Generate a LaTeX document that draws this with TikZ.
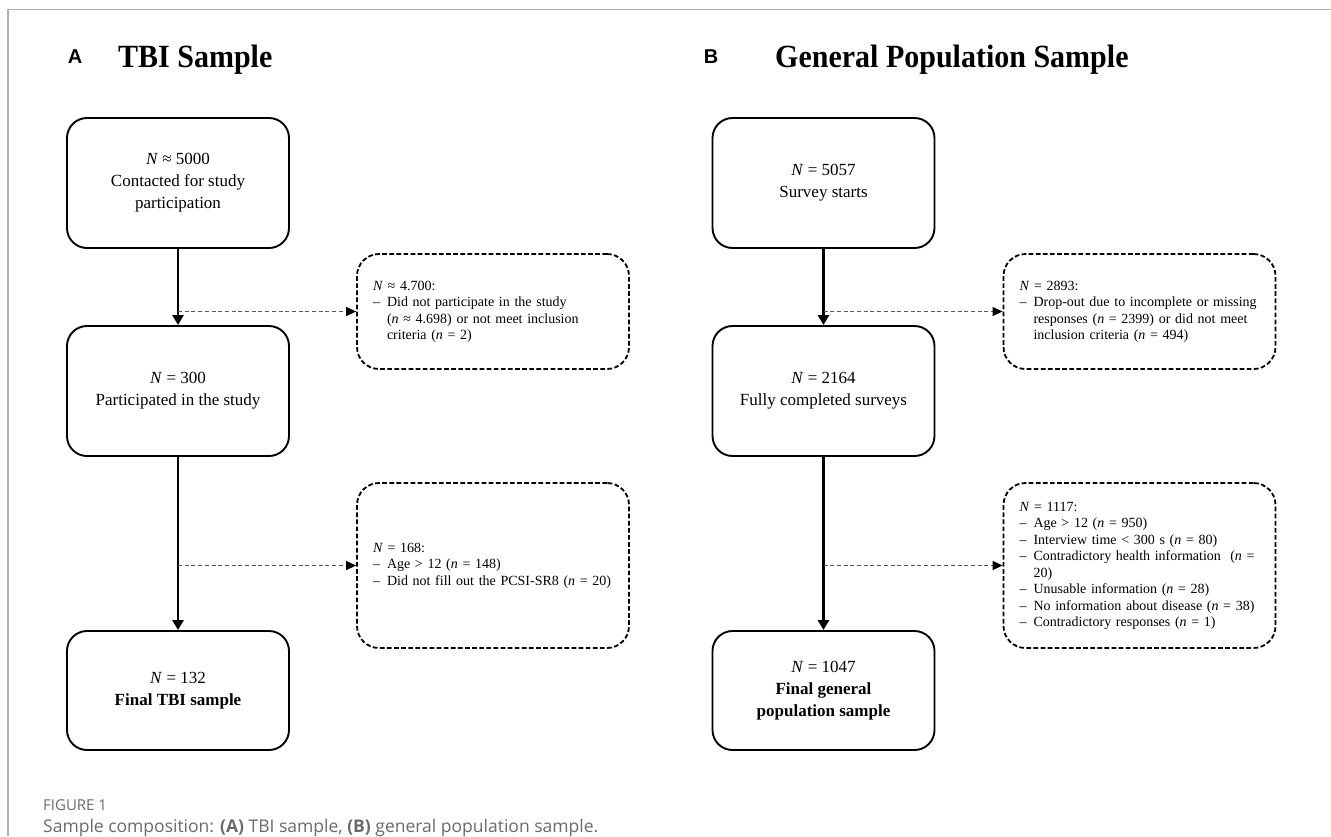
\documentclass[tikz,border=0pt]{standalone}
\usepackage{fontspec}
\setmainfont{Liberation Serif}
\newfontfamily\lblfont{Liberation Sans}
\newfontfamily\capfont{Open Sans}
\usetikzlibrary{arrows.meta}
\definecolor{framegray}{HTML}{B0B0B0}
\definecolor{capgray}{HTML}{6A6A6A}
\begin{document}
\begin{tikzpicture}[x=1pt,y=-1pt,
  mainbox/.style={draw, line width=1.9pt, rounded corners=20pt, minimum width=222pt,
    minimum height=130pt, align=center, inner sep=0pt, font=\fontsize{17}{22}\selectfont},
  dashbox/.style={draw, line width=1.8pt, dash pattern=on 4.7pt off 2.4pt, rounded corners=22pt,
    minimum width=272pt, text width=240pt, inner xsep=16pt, inner ysep=0pt, align=left,
    font=\fontsize{14}{16.5}\selectfont},
  flowarrow/.style={line width=2.6pt, -{Triangle[length=10pt,width=11pt]}},
  dasharrow/.style={line width=1.2pt, draw=black!65, dash pattern=on 4pt off 2.7pt,
    -{Triangle[length=10pt,width=9pt,color=black]}},
  panellabel/.style={font=\lblfont\bfseries\fontsize{20}{24}\selectfont, inner sep=0pt},
  paneltitle/.style={anchor=base west, inner sep=0pt, font=\bfseries\fontsize{30}{36}\selectfont},
  ]
\useasboundingbox (0,0) rectangle (1331,836);
\fill[white] (0,0) rectangle (1331,836);
\draw[framegray, line width=1.8pt] (8,836) -- (8,9.5) -- (1331,9.5);

% headers
\node[panellabel] (la) at (75,57) {A};
\node[paneltitle] (ta) at (118,67) {\scalebox{1}[1.08]{TBI Sample}};
\node[panellabel] (lb) at (711,57) {B};
\node[paneltitle] (tb) at (775,67) {\scalebox{1}[1.08]{General Population Sample}};

% column A
\node[mainbox] (A1) at (178,183) {\textit{N} ≈ 5000\\Contacted for study\\participation};
\node[mainbox] (A2) at (178,391) {\textit{N} = 300\\Participated in the study};
\node[mainbox, minimum height=119pt] (A3) at (178,690.5) {\textit{N} = 132\\\textbf{Final TBI sample}};

\node[dashbox, minimum height=115pt] (dA1) at (493,311.5) {\begin{tabular}{@{}l@{\hspace{7pt}}l@{}}
\multicolumn{2}{@{}l@{}}{\textit{N} ≈ 4.700:}\\
– & Did not participate in the study\\
  & (\textit{n} ≈ 4.698) or not meet inclusion\\
  & criteria (\textit{n} = 2)
\end{tabular}};
\node[dashbox, minimum height=165pt] (dA2) at (493,565.5) {\begin{tabular}{@{}l@{\hspace{7pt}}l@{}}
\multicolumn{2}{@{}l@{}}{\textit{N} = 168:}\\
– & Age > 12 (\textit{n} = 148)\\
– & Did not fill out the PCSI-SR8 (\textit{n} = 20)
\end{tabular}};

\coordinate (jA1) at (178,311.5);
\coordinate (jA2) at (178,565.5);
\draw[flowarrow] (A1) -- (A2);
\draw[flowarrow] (A2) -- (A3);
\draw[dasharrow] (jA1) -- (dA1.west);
\draw[dasharrow] (jA2) -- (dA2.west);

% column B
\node[mainbox] (B1) at (823.5,183) {\textit{N} = 5057\\Survey starts};
\node[mainbox] (B2) at (823.5,391) {\textit{N} = 2164\\Fully completed surveys};
\node[mainbox, minimum height=119pt] (B3) at (823.5,690.5) {\textit{N} = 1047\\\textbf{Final general}\\\textbf{population sample}};

\node[dashbox, minimum height=115pt] (dB1) at (1139.5,311.5) {\begin{tabular}{@{}l@{\hspace{7pt}}l@{}}
\multicolumn{2}{@{}l@{}}{\textit{N} = 2893:}\\
– & Drop-out due to incomplete or missing\\
  & responses (\textit{n} = 2399) or did not meet\\
  & inclusion criteria (\textit{n} = 494)
\end{tabular}};
\node[dashbox, minimum height=165pt] (dB2) at (1139.5,565.5) {\begin{tabular}{@{}l@{\hspace{7pt}}l@{}}
\multicolumn{2}{@{}l@{}}{\textit{N} = 1117:}\\
– & Age > 12 (\textit{n} = 950)\\
– & Interview time < 300 s (\textit{n} = 80)\\
– & Contradictory health information \ (\textit{n} =\\
  & 20)\\
– & Unusable information (\textit{n} = 28)\\
– & No information about disease (\textit{n} = 38)\\
– & Contradictory responses (\textit{n} = 1)
\end{tabular}};

\coordinate (jB1) at (823.5,311.5);
\coordinate (jB2) at (823.5,565.5);
\draw[flowarrow] (B1) -- (B2);
\draw[flowarrow] (B2) -- (B3);
\draw[dasharrow] (jB1) -- (dB1.west);
\draw[dasharrow] (jB2) -- (dB2.west);

% caption
\node[anchor=base west, inner sep=0pt, text=capgray, font=\capfont\fontsize{15}{18}\selectfont] (fig) at (43,810) {FIGURE 1};
\node[anchor=base west, inner sep=0pt, text=capgray, font=\capfont\fontsize{17.5}{21}\selectfont] (cap) at (43,832) {Sample composition: \textbf{(A)} TBI sample, \textbf{(B)} general population sample.};
\end{tikzpicture}
\end{document}
